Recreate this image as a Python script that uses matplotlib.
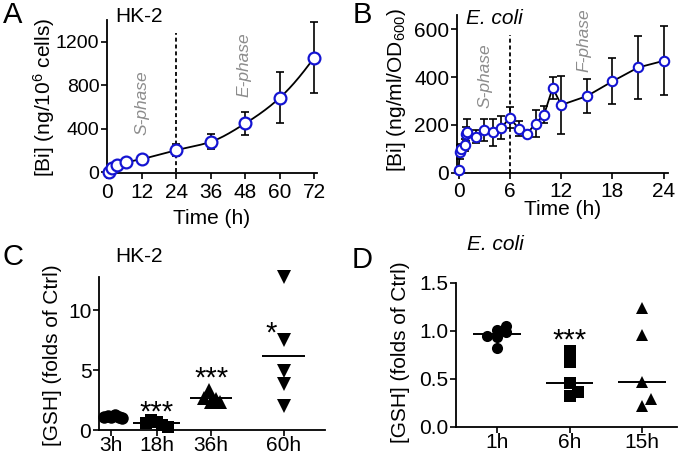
import numpy as np
import matplotlib
matplotlib.use('Agg')
import matplotlib.pyplot as plt

plt.rcParams['font.family'] = ['Liberation Sans', 'DejaVu Sans']
plt.rcParams['mathtext.fontset'] = 'custom'
plt.rcParams['mathtext.rm'] = 'Liberation Sans'
plt.rcParams['mathtext.it'] = 'Liberation Sans:italic'

# ---------------- data ----------------
# Panel A: HK-2 Bi uptake
a_time = [0.5, 1.5, 3.5, 6.5, 12, 24, 36, 48, 60, 72]
a_bi = [5, 37, 64, 89, 120, 202, 279, 448, 683, 1054]
a_err = [5, 10, 12, 15, 20, 55, 70, 105, 235, 330]
a_xticks = [0, 12, 24, 36, 48, 60, 72]
a_yticks = [0, 400, 800, 1200]

# Panel B: E. coli Bi uptake
b_time = [0, 0.1, 0.3, 0.7, 0.8, 1.0, 2, 3, 4, 5, 6, 7, 8, 9, 10, 11, 12, 15, 18, 21, 24]
b_bi = [10, 85, 100, 115, 160, 168, 150, 180, 168, 188, 230, 184, 163, 205, 243, 355, 283, 320, 382, 440, 468]
b_err = [5, 30, 20, 25, 30, 57, 27, 46, 57, 48, 43, 33, 10, 56, 35, 46, 122, 71, 96, 133, 144]
b_xticks = [0, 6, 12, 18, 24]
b_yticks = [0, 200, 400, 600]

# Panel C: HK-2 GSH
c_groups = ['3h', '18h', '36h', '60h']
c_hours = [3, 18, 36, 60]
c_vals = [
    [1.10, 1.15, 1.10, 1.25, 1.10, 1.00],
    [0.55, 0.85, 0.70, 0.40, 0.25],
    [3.30, 2.70, 2.60, 2.30, 2.30],
    [12.8, 7.5, 4.9, 3.8, 2.0],
]
c_jitter = [
    [-2.4, -1.2, 0.0, 1.2, 2.4, 3.6],
    [-3.6, -1.8, 0.0, 1.8, 3.6],
    [-0.6, -2.2, 1.7, 0.0, 2.8],
    [0, 0, 0, 0, 0],
]
c_stars = ['', '***', '***', '*']
c_star_y = [0, 2.08, 4.86, 8.6]
c_star_dx = [0, 0, 0, -4]
c_yticks = [0, 5, 10]

# Panel D: E. coli GSH
d_groups = ['1h', '6h', '15h']
d_vals = [
    [0.95, 1.01, 1.05, 0.99, 0.93, 0.82],
    [0.79, 0.67, 0.455, 0.36, 0.32],
    [1.24, 0.96, 0.466, 0.29, 0.22],
]
d_jitter = [
    [-0.14, 0.0, 0.12, 0.12, 0.0, 0.0],
    [0, 0, 0, 0.12, 0],
    [0, 0, 0, 0.12, 0],
]
d_stars = ['', '***', '']
d_star_y = [0, 0.966, 0]
d_yticks = [0.0, 0.5, 1.0, 1.5]

BLUE = '#1414d2'
GREY = '#8c8c8c'

W, H = 680, 458
fig = plt.figure(figsize=(W / 100, H / 100), dpi=100)


def px_axes(l, t, r, b):
    return fig.add_axes([l / W, 1 - b / H, (r - l) / W, (b - t) / H])


def ftext(x, y, s, **kw):
    fig.text(x / W, 1 - y / H, s, **kw)


def style(ax, fs, xpad=2, ypad=1.5, yfs=None):
    for s in ['top', 'right']:
        ax.spines[s].set_visible(False)
    for s in ['left', 'bottom']:
        ax.spines[s].set_linewidth(1.3)
    ax.tick_params(axis='both', direction='out', length=4, width=1.2, labelsize=fs)
    ax.tick_params(axis='x', pad=xpad)
    ax.tick_params(axis='y', pad=ypad, labelsize=yfs if yfs else fs)


def pchip(x, y, xn):
    x = np.asarray(x, float)
    y = np.asarray(y, float)
    h = np.diff(x)
    d = np.diff(y) / h
    m = np.zeros_like(y)
    for k in range(1, len(x) - 1):
        if d[k - 1] * d[k] > 0:
            w1 = 2 * h[k] + h[k - 1]
            w2 = h[k] + 2 * h[k - 1]
            m[k] = (w1 + w2) / (w1 / d[k - 1] + w2 / d[k])
    m[0] = ((2 * h[0] + h[1]) * d[0] - h[0] * d[1]) / (h[0] + h[1])
    m[-1] = ((2 * h[-1] + h[-2]) * d[-1] - h[-1] * d[-2]) / (h[-1] + h[-2])
    idx = np.clip(np.searchsorted(x, xn) - 1, 0, len(h) - 1)
    t = (xn - x[idx]) / h[idx]
    h00 = 2 * t**3 - 3 * t**2 + 1
    h10 = t**3 - 2 * t**2 + t
    h01 = -2 * t**3 + 3 * t**2
    h11 = t**3 - t**2
    return h00 * y[idx] + h10 * h[idx] * m[idx] + h01 * y[idx + 1] + h11 * h[idx] * m[idx + 1]


# ---------------- Panel A ----------------
axA = px_axes(107, 20, 317, 173)
style(axA, 15, xpad=3.5, yfs=14)
axA.set_xlim(-0.1, 73)
axA.set_ylim(-8, 1400)
axA.set_xticks(a_xticks)
axA.set_yticks(a_yticks)
axA.vlines(24, 0, 1280, colors='k', linestyles=(0, (2.2, 1.6)), linewidth=1.3, zorder=1)
tt = np.linspace(a_time[0], a_time[-1], 400)
axA.plot(tt, pchip(a_time, a_bi, tt), color='k', lw=1.3, zorder=2)
axA.errorbar(a_time, a_bi, yerr=a_err, fmt='none', ecolor='k', elinewidth=1.2,
             capsize=3, capthick=1.2, zorder=3, clip_on=False)
axA.plot(a_time, a_bi, 'o', mfc='white', mec=BLUE, mew=1.6, ms=8.5, zorder=4, clip_on=False)
axA.text(12, 640, 'S-phase', rotation=90, color=GREY, style='italic', fontsize=12.5,
         ha='center', va='center')
axA.text(47.5, 990, 'E-phase', rotation=90, color=GREY, style='italic', fontsize=12.5,
         ha='center', va='center')
axA.set_xlabel('Time (h)', fontsize=15, labelpad=5)
ftext(44, 97, '[Bi] (ng/10$^{6}$ cells)', rotation=90, fontsize=15, ha='center', va='center')
ftext(115, 17, 'HK-2', fontsize=15, ha='left', va='center')
ftext(13, 15, 'A', fontsize=21, ha='center', va='center')

# ---------------- Panel B ----------------
axB = px_axes(457, 15, 668, 172.5)
style(axB, 15, xpad=3)
axB.set_xlim(-0.2, 24.5)
axB.set_ylim(0, 660)
axB.set_xticks(b_xticks)
axB.set_yticks(b_yticks)
axB.vlines(6, 0, 576, colors='k', linestyles=(0, (2.2, 1.6)), linewidth=1.3, zorder=1)
axB.errorbar(b_time, b_bi, yerr=b_err, fmt='none', ecolor='k', elinewidth=1.2,
             capsize=3, capthick=1.2, zorder=2, clip_on=False)
axB.plot(b_time, b_bi, '-', color='k', lw=1.3, zorder=3)
axB.plot(b_time, b_bi, 'o', mfc='white', mec=BLUE, mew=1.5, ms=6.8, zorder=4, clip_on=False)
axB.text(3.1, 404, 'S-phase', rotation=90, color=GREY, style='italic', fontsize=12.5,
         ha='center', va='center')
axB.text(14.7, 555, 'F-phase', rotation=90, color=GREY, style='italic', fontsize=12.5,
         ha='center', va='center')
axB.set_xlabel('Time (h)', fontsize=15, labelpad=-1)
ftext(396, 90, '[Bi] (ng/ml/OD$_{600}$)', rotation=90, fontsize=15, ha='center', va='center')
ftext(466, 18, 'E. coli', fontsize=15, style='italic', ha='left', va='center')
ftext(362, 15, 'B', fontsize=21, ha='center', va='center')

# ---------------- Panel C ----------------
axC = px_axes(99, 276.7, 325, 430)
style(axC, 15, xpad=0.5)
axC.set_xlim(-1.1, 73.7)
axC.set_ylim(0, 12.8)
axC.set_xticks(c_hours)
axC.set_xticklabels(c_groups)
axC.set_yticks(c_yticks)
c_markers = ['o', 's', '^', 'v']
c_ms = [9, 9, 10, 9.5]
c_half = [4, 7.7, 7, 7]
for i, h in enumerate(c_hours):
    xs = np.array(c_jitter[i]) + h
    m = np.mean(c_vals[i])
    axC.hlines(m, h - c_half[i], h + c_half[i], colors='k', lw=1.4, zorder=2)
    axC.plot(xs, c_vals[i], c_markers[i], color='k', ms=c_ms[i], mew=0, zorder=3, clip_on=False)
    if c_stars[i]:
        axC.annotate(c_stars[i], xy=(h + c_star_dx[i], c_star_y[i]), xytext=(0, -15),
                     textcoords='offset pixels', ha='center', va='baseline', fontsize=21)
ftext(52, 355, '[GSH] (folds of Ctrl)', rotation=90, fontsize=15, ha='center', va='center')
ftext(115, 257, 'HK-2', fontsize=15, ha='left', va='center')
ftext(12.5, 257, 'C', fontsize=21, ha='center', va='center')

# ---------------- Panel D ----------------
axD = px_axes(456, 282.7, 676.7, 426.7)
style(axD, 15, xpad=0.5)
axD.set_xlim(-0.57, 2.48)
axD.set_ylim(0, 1.5)
axD.set_xticks(range(len(d_groups)))
axD.set_xticklabels(d_groups)
axD.set_yticks(d_yticks)
axD.set_yticklabels([f'{v:.1f}' for v in d_yticks])
d_markers = ['o', 's', '^']
d_ms = [8, 8, 8.5]
for i in range(len(d_groups)):
    xs = np.array(d_jitter[i]) + i
    md = np.median(d_vals[i])
    axD.hlines(md, i - 0.33, i + 0.33, colors='k', lw=1.4, zorder=2)
    axD.plot(xs, d_vals[i], d_markers[i], color='k', ms=d_ms[i], mew=0, zorder=3, clip_on=False)
    if d_stars[i]:
        axD.annotate(d_stars[i], xy=(i, d_star_y[i]), xytext=(0, -15),
                     textcoords='offset pixels', ha='center', va='baseline', fontsize=21)
ftext(400, 352, '[GSH] (folds of Ctrl)', rotation=90, fontsize=15, ha='center', va='center')
ftext(466.7, 244, 'E. coli', fontsize=15, style='italic', ha='left', va='center')
ftext(362, 259.5, 'D', fontsize=21, ha='center', va='center')

fig.savefig('out.png', dpi=100)
